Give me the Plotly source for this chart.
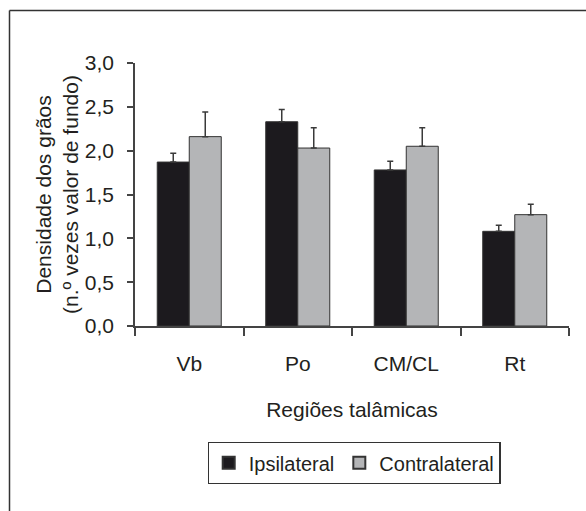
import plotly.graph_objects as go

categories = ["Vb", "Po", "CM/CL", "Rt"]
ipsi = [1.87, 2.33, 1.78, 1.08]
ipsi_err = [0.10, 0.14, 0.10, 0.07]
contra = [2.16, 2.03, 2.05, 1.27]
contra_err = [0.28, 0.23, 0.21, 0.12]
y_ticks = [0.0, 0.5, 1.0, 1.5, 2.0, 2.5, 3.0]

FONT = "Liberation Sans, Arial, sans-serif"
TXT = "#231f20"
FS = 21

fig = go.Figure()
fig.add_trace(go.Bar(
    x=categories, y=ipsi, name="Ipsilateral",
    marker=dict(color="#1c1a1e", line=dict(color="#333333", width=1)),
    error_y=dict(type="data", symmetric=False, array=ipsi_err,
                 arrayminus=[0] * len(ipsi), color="#3a3a3a", thickness=1.5, width=3),
))
fig.add_trace(go.Bar(
    x=categories, y=contra, name="Contralateral",
    marker=dict(color="#b4b5b7", line=dict(color="#333333", width=1)),
    error_y=dict(type="data", symmetric=False, array=contra_err,
                 arrayminus=[0] * len(contra), color="#3a3a3a", thickness=1.5, width=3),
))

L, R, T, B = 135, 17, 63, 185
W, H = 586, 511
pw, ph = W - L - R, H - T - B

def px_x(px):
    return (px - L) / pw

def px_y(py):
    return (H - B - py) / ph

fig.update_layout(
    width=W, height=H,
    margin=dict(l=L, r=R, t=T, b=B, autoexpand=False),
    paper_bgcolor="white", plot_bgcolor="white",
    separators=",.",
    barmode="group", bargap=0.41, bargroupgap=0,
    font=dict(family=FONT, size=FS, color=TXT),
    showlegend=True,
    legend=dict(
        orientation="h", x=px_x(354), xanchor="center", y=px_y(442), yanchor="top",
        bordercolor="#333333", borderwidth=1.2, bgcolor="white",
        font=dict(family=FONT, size=FS - 1, color=TXT),
        itemsizing="constant", traceorder="normal", itemwidth=30,
    ),
    xaxis=dict(
        showline=True, linecolor="#444444", linewidth=1.5,
        ticks="outside", tickson="boundaries", ticklen=8, tickwidth=1.5, tickcolor="#444444",
        ticklabelstandoff=18,
        tickfont=dict(size=FS),
        title=dict(text="Regiões talâmicas", standoff=28, font=dict(size=FS)),
        showgrid=False, zeroline=False,
    ),
    yaxis=dict(
        range=[0, 3.0], tickvals=y_ticks, tickformat=".1f",
        showline=True, linecolor="#444444", linewidth=1.5,
        ticks="outside", ticklen=6, tickwidth=1.5, tickcolor="#444444",
        ticklabelstandoff=9,
        tickfont=dict(size=FS),
        title=dict(text="Densidade dos grãos<br>(n.º vezes valor de fundo)", standoff=0,
                   font=dict(size=FS)),
        showgrid=False, zeroline=False,
    ),
    shapes=[
        dict(type="line", xref="paper", yref="paper",
             x0=px_x(9.5), x1=px_x(600), y0=px_y(10.5), y1=px_y(10.5),
             line=dict(color="#333333", width=1.5)),
        dict(type="line", xref="paper", yref="paper",
             x0=px_x(9.5), x1=px_x(9.5), y0=px_y(10.5), y1=px_y(520),
             line=dict(color="#333333", width=1.5)),
    ],
)

fig.write_html("out.html")
